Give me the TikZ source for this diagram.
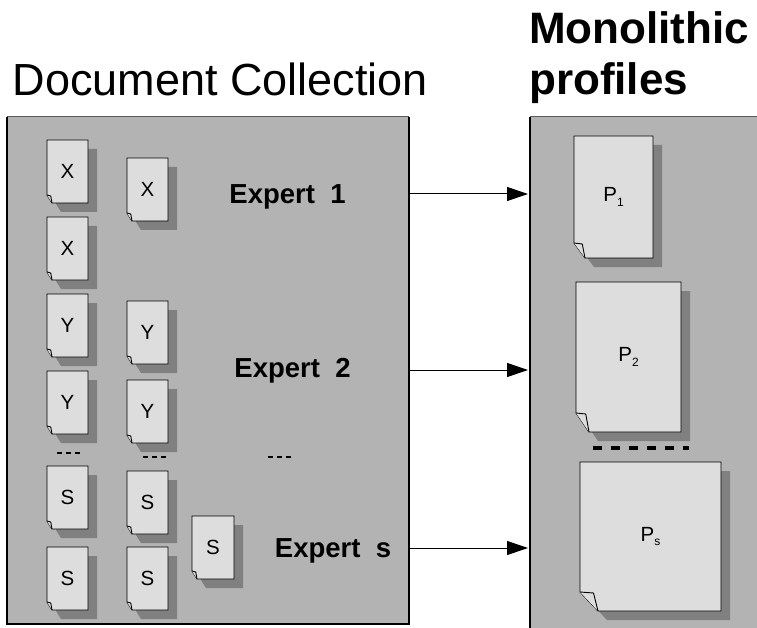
\documentclass[tikz,border=0pt]{standalone}
\usepackage{fontspec}
\setmainfont{Liberation Sans}
\usetikzlibrary{arrows.meta}
\definecolor{panelc}{HTML}{B3B3B3}
\definecolor{docc}{HTML}{DDDDDD}
\definecolor{shadowc}{HTML}{808080}
\newcommand{\docpic}[8]{%
 \fill[shadowc] ({#1+9},{#2+9}) -- ({#3+9},{#2+9}) -- ({#3+9},{#4+9}) -- ({#1+#5+9},{#4+9}) -- ({#1+9},{#4-#6+9}) -- cycle;
 \draw[docbody] (#1,#2) -- (#3,#2) -- (#3,#4) -- ({#1+#5},#4) -- (#1,{#4-#6}) -- cycle;
 \draw[docbody] (#1,{#4-#6}) -- ({#1+0.75*#5},{#4-#6+1}) -- ({#1+#5},#4);
 \node[doclabel] (#8) at ({(#1+#3)/2},{(#2+#4)/2}) {#7};
}
\newcommand{\subtxt}[1]{\raisebox{-0.45ex}{\fontsize{12}{14}\selectfont #1}}
\tikzset{
 docbody/.style={draw=black,fill=docc,line width=0.9pt,line join=miter},
 doclabel/.style={inner sep=0pt,font=\fontsize{20.5}{24}\selectfont},
 expertlabel/.style={inner sep=0pt,anchor=base,font=\fontsize{27.5}{30}\selectfont\bfseries},
 titlelabel/.style={inner sep=0pt,font=\fontsize{45}{51}\selectfont},
 dots/.style={line width=2.6pt,dash pattern=on 5pt off 4pt},
 flow/.style={line width=1pt,-{Triangle[length=21pt,width=14pt]}},
}
\begin{document}
\begin{tikzpicture}[x=1pt,y=-1pt]
\useasboundingbox (0,0) rectangle (757,628);
\fill[white] (0,0) rectangle (757,628);
% left panel
\fill[panelc] (7,117) rectangle (409,624);
\draw[black,line width=1.4pt] (7,117) -- (7,624) -- (409,624) -- (409,117);
\draw[shadowc!70!black,line width=1pt] (7,117) -- (409,117);
% right panel
\fill[panelc] (530,117) rectangle (757,628);
\draw[black,line width=1.4pt] (530,628) -- (530,117);
\draw[shadowc!70!black,line width=1pt] (530,117) -- (757,117);
% titles
\node[titlelabel,anchor=base] (title1) at (220.5,96) {Document Collection};
\node[titlelabel,anchor=base west,font=\fontsize{44}{51}\selectfont\bfseries] (title2a) at (529,44) {Monolithic};
\node[titlelabel,anchor=base west,font=\fontsize{44}{51}\selectfont\bfseries] (title2b) at (529,95) {profiles};
% column 1
\docpic{47}{140}{88}{203}{5}{8}{X}{d11}
\docpic{47}{217}{88}{280}{5}{8}{X}{d12}
\docpic{47}{294}{88}{357}{5}{8}{Y}{d13}
\docpic{47}{371}{88}{434}{5}{8}{Y}{d14}
\docpic{47}{466}{88}{529}{5}{8}{S}{d15}
\docpic{47}{547}{88}{610}{5}{8}{S}{d16}
% column 2
\docpic{127}{158}{168}{221}{5}{8}{X}{d21}
\docpic{127}{301}{168}{364}{5}{8}{Y}{d22}
\docpic{127}{380}{168}{443}{5}{8}{Y}{d23}
\docpic{127}{471}{168}{534}{5}{8}{S}{d24}
\docpic{127}{547}{168}{610}{5}{8}{S}{d25}
% column 3
\docpic{192}{516}{234}{579}{5}{8}{S}{d31}
% dashes
\draw[dots] (57,453) -- (81,453);
\draw[dots] (143,457) -- (167,457);
\draw[dots] (268,457) -- (294,457);
% profiles
\docpic{574}{136}{653}{258}{11}{15}{P\subtxt{1}}{p1}
\docpic{576}{282}{681}{432}{13}{19}{P\subtxt{2}}{p2}
\docpic{580}{462}{721}{611}{18}{19}{P\subtxt{s}}{ps}
\draw[line width=4pt,dash pattern=on 9pt off 9pt] (593,448) -- (689,448);
% expert labels
\node[expertlabel] (e1) at (287.5,204) {Expert\ \ 1};
\node[expertlabel] (e2) at (292.5,377) {Expert\ \ 2};
\node[expertlabel] (es) at (333,557.5) {Expert\ \ s};
% arrows
\coordinate (a1s) at (410,194); \coordinate (a1e) at (528,194);
\coordinate (a2s) at (410,370); \coordinate (a2e) at (528,370);
\coordinate (a3s) at (410,548); \coordinate (a3e) at (528,548);
\draw[flow] (a1s) -- (a1e);
\draw[flow] (a2s) -- (a2e);
\draw[flow] (a3s) -- (a3e);
\end{tikzpicture}
\end{document}
